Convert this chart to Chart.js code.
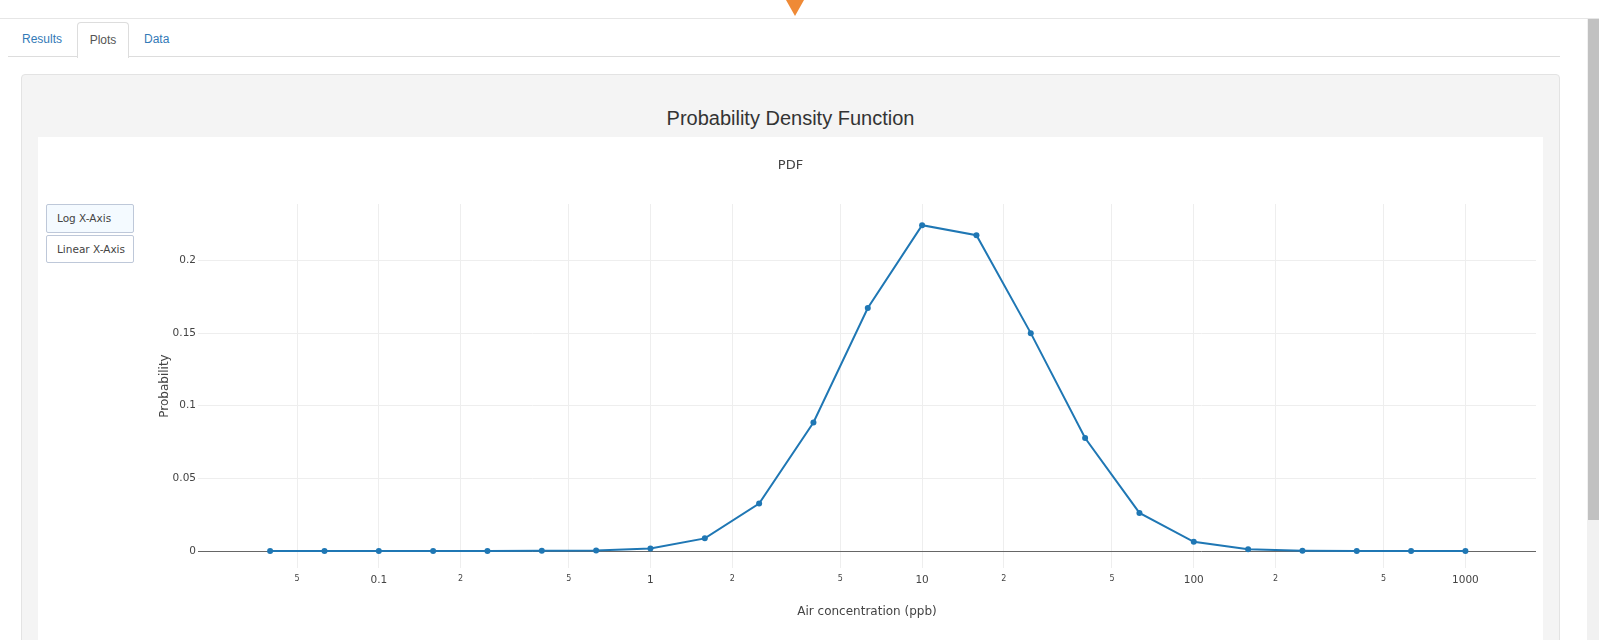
<!DOCTYPE html>
<html>
<head>
<meta charset="utf-8">
<title>Probability Density Function</title>
<script src="https://cdn.jsdelivr.net/npm/chart.js@4.4.1/dist/chart.umd.min.js"></script>
<style>
  html, body { margin: 0; padding: 0; width: 1599px; height: 640px; overflow: hidden; background: #fff;
               font-family: "Liberation Sans", Arial, sans-serif; }
  .topbar { position: absolute; left: 0; top: 0; width: 1599px; height: 18px; border-bottom: 1px solid #e6e6e6; }
  .marker { position: absolute; left: 786px; top: 0; width: 0; height: 0;
            border-left: 9px solid transparent; border-right: 9px solid transparent; border-top: 16px solid #ef8a36; }
  .track { position: absolute; left: 1587px; top: 19px; width: 12px; height: 621px; background: #f1f1f1; }
  .thumb { position: absolute; left: 1588px; top: 19px; width: 11px; height: 501px; background: #c1c1c1; }
  .tabline { position: absolute; left: 8px; top: 56px; width: 1552px; height: 1px; background: #ddd; }
  .tab { position: absolute; top: 22px; height: 34px; line-height: 34px; font-size: 12px; color: #337ab7; }
  .tab.active { left: 77px; width: 50px; text-align: center; color: #555; background: #fff;
                border: 1px solid #ddd; border-bottom: 0; border-radius: 4px 4px 0 0; height: 35px; }
  .well { position: absolute; left: 21px; top: 74px; width: 1537px; height: 600px; background: #f4f4f4;
          border: 1px solid #e3e3e3; border-radius: 4px; }
  .heading { position: absolute; left: 21px; top: 104px; width: 1539px; text-align: center;
             font-size: 20px; line-height: 28px; color: #333; }
  .card { position: absolute; left: 38px; top: 137px; width: 1505px; height: 510px; background: #fff; }
  .btn { position: absolute; left: 46px; width: 88px; box-sizing: border-box; border: 1px solid #bec8d9;
         border-radius: 2px; font-family: "DejaVu Sans", sans-serif; font-size: 10.5px; color: #444;
         padding-left: 10px; background: #fff; }
  .btn.on { background: #f4faff; }
  #pdf { position: absolute; left: 38px; top: 137px; }
</style>
</head>
<body>
<div class="topbar"></div>
<div class="marker"></div>
<div class="tabline"></div>
<div class="tab" style="left:22px">Results</div>
<div class="tab active">Plots</div>
<div class="tab" style="left:144px">Data</div>
<div class="well"></div>
<div class="heading">Probability Density Function</div>
<div class="card"></div>
<div class="btn on" style="top:204px;height:29px;line-height:27px">Log X-Axis</div>
<div class="btn" style="top:235px;height:28px;line-height:26px">Linear X-Axis</div>
<canvas id="pdf" width="1505" height="503"></canvas>
<div class="track"></div>
<div class="thumb"></div>
<script>
  // concentration bins (ppb), 5 per decade
  var concentration = [0.0398, 0.0631, 0.1, 0.1585, 0.2512, 0.3981, 0.631, 1, 1.585, 2.512, 3.981,
                       6.31, 10, 15.85, 25.12, 39.81, 63.1, 100, 158.5, 251.2, 398.1, 631, 1000];
  var probability = [0, 0, 0, 0, 0, 0.0001, 0.0003, 0.0017, 0.0087, 0.0327, 0.0885,
                     0.1673, 0.2243, 0.2174, 0.1500, 0.0778, 0.0262, 0.0063, 0.0012, 0.0002, 0, 0, 0];

  var xTickValues = [0.05, 0.1, 0.2, 0.5, 1, 2, 5, 10, 20, 50, 100, 200, 500, 1000];
  var xTickLabels = ["5", "0.1", "2", "5", "1", "2", "5", "10", "2", "5", "100", "2", "5", "1000"];
  var xMajorTicks = [0.1, 1, 10, 100, 1000];
  var yTickValues = [0, 0.05, 0.1, 0.15, 0.2];
  var yTickLabels = ["0", "0.05", "0.1", "0.15", "0.2"];

  var FONT = "'DejaVu Sans', Verdana, sans-serif";
  var TXT = "#444";

  var points = concentration.map(function (x, i) { return { x: x, y: probability[i] }; });

  new Chart(document.getElementById("pdf"), {
    type: "line",
    data: {
      datasets: [{
        label: "PDF", data: points,
        borderColor: "#1f77b4", backgroundColor: "#1f77b4",
        borderWidth: 2, pointRadius: 3, pointBorderWidth: 0, pointHoverRadius: 4, tension: 0
      }]
    },
    options: {
      responsive: false, animation: false,
      layout: { padding: { left: 7, right: 7, top: 0, bottom: 0 } },
      plugins: {
        legend: { display: false },
        title: { display: true, text: "PDF", color: TXT,
                 font: { family: FONT, size: 13, weight: "normal" }, padding: { top: 21, bottom: 30.4 } }
      },
      scales: {
        x: {
          type: "logarithmic", min: 0.0216, max: 1819,
          afterBuildTicks: function (s) { s.ticks = xTickValues.map(function (v) { return { value: v }; }); },
          afterFit: function (s) { s.height = 72; },
          grid: { color: "#eee", drawTicks: false },
          border: { display: false },
          ticks: {
            autoSkip: false, maxRotation: 0, minRotation: 0, padding: 6, color: TXT,
            callback: function (v, i) { return xTickLabels[i]; },
            font: function (ctx) {
              var major = ctx.tick && xMajorTicks.indexOf(ctx.tick.value) >= 0;
              return { family: FONT, size: major ? 10.5 : 8 };
            }
          },
          title: { display: true, text: "Air concentration (ppb)", color: TXT,
                   font: { family: FONT, size: 12 }, padding: { top: 0, bottom: 20.8 } }
        },
        y: {
          min: -0.0117, max: 0.2389,
          afterBuildTicks: function (s) { s.ticks = yTickValues.map(function (v) { return { value: v }; }); },
          afterFit: function (s) { s.width = 153; },
          grid: {
            drawTicks: false,
            color: function (ctx) { return ctx.tick && ctx.tick.value === 0 ? "#666" : "#eee"; }
          },
          border: { display: false },
          ticks: { padding: 2, color: TXT, font: { family: FONT, size: 10.5 },
                   callback: function (v, i) { return yTickLabels[i]; } },
          title: { display: true, text: "Probability", color: TXT,
                   font: { family: FONT, size: 12 }, padding: { top: 112.8, bottom: 0 } }
        }
      }
    }
  });
</script>
</body>
</html>
